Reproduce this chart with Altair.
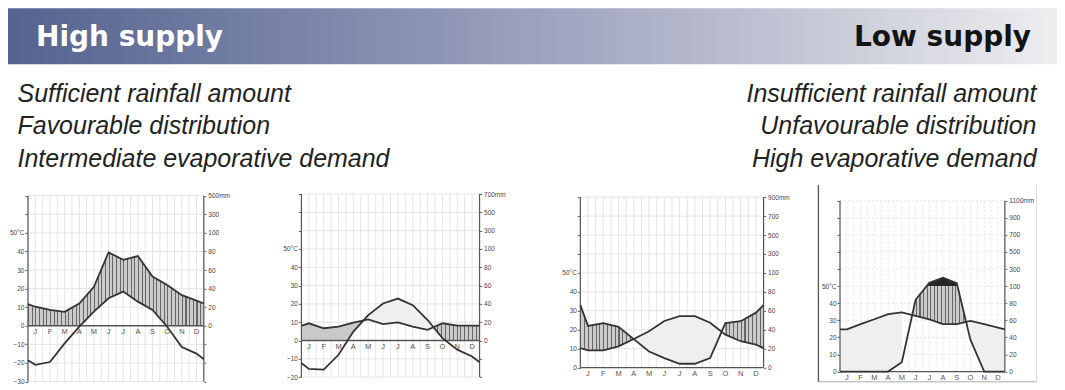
import altair as alt
import numpy as np
import pandas as pd

# ---------------- data ----------------
MONTHS = ["J", "F", "M", "A", "M", "J", "J", "A", "S", "O", "N", "D"]
# positions: left edge, month centres, right edge (in month units)
XPOS = [0.0] + [i + 0.5 for i in range(12)] + [12.0]

# temperature (deg C) and precipitation (mm): left edge, Jan..Dec, right edge
T1 = [-18.6, -21.0, -19.5, -9.5, -0.5, 7.6, 14.8, 18.4, 13.0, 8.5, -0.5, -11.4, -15.0, -18.0]
P1 = [23.4, 20.5, 17.0, 15.0, 24.0, 42.0, 79.0, 71.0, 75.0, 53.0, 44.0, 33.0, 27.0, 24.0]
T2 = [-12.3, -15.5, -15.9, -7.8, 4.9, 13.9, 20.2, 22.9, 19.3, 11.2, 1.3, -5.0, -8.7, -11.9]
P2 = [15.9, 18.8, 13.4, 15.2, 19.5, 23.1, 18.0, 19.9, 15.2, 11.6, 18.8, 16.2, 16.2, 16.2]
T3 = [10.3, 9.1, 9.1, 11.2, 15.1, 19.2, 24.6, 27.2, 27.2, 23.7, 17.4, 13.9, 12.1, 10.3]
P3 = [66.0, 44.0, 47.0, 43.0, 30.0, 17.0, 10.0, 4.0, 4.0, 10.0, 47.0, 49.0, 58.0, 66.0]
T4 = [24.7, 24.7, 27.7, 30.6, 33.6, 34.6, 32.6, 30.5, 27.7, 27.7, 29.6, 27.7, 25.7, 24.7]
P4 = [0.0, 0.0, 0.0, 0.0, 0.0, 11.0, 84.0, 140.0, 198.0, 135.0, 37.0, 0.0, 0.0, 0.0]

HEAD_LEFT = "High supply"
HEAD_RIGHT = "Low supply"
LEFT_LINES = ["Sufficient rainfall amount", "Favourable distribution",
              "Intermediate evaporative demand"]
RIGHT_LINES = ["Insufficient rainfall amount", "Unfavourable distribution",
               "High evaporative demand"]

# ---------------- styling ----------------
LABEL_FONT = "Liberation Sans"
GRID = "#e4e4e4"
AXIS = "#555555"
LINE = "#343434"
HATCH_BG = "#cbcbcb"
HATCH_FG = "#666666"
SOLID = "#c9c9c9"
DOTTED = "#efefef"
CAP = "#262626"
X0 = 27.0  # page x of first diagram's plot area (layout reference)


def p_units(p):
    # Walter-Lieth: 10 degC = 20 mm up to 100 mm, then 10 degC = 200 mm
    return p / 2.0 if p <= 100 else 50.0 + (p - 100.0) / 20.0


def cross_x(xs, a, b):
    out = []
    for i in range(len(xs) - 1):
        d0, d1 = a[i] - b[i], a[i + 1] - b[i + 1]
        if d0 * d1 < 0:
            out.append(xs[i] + (xs[i + 1] - xs[i]) * d0 / (d0 - d1))
    return out


def runs(xq, up, low):
    diff = up - low
    segs, cur = [], []
    for i in range(len(xq)):
        if diff[i] >= -1e-9:
            cur.append(i)
        else:
            if cur:
                segs.append(cur)
            cur = []
    if cur:
        segs.append(cur)
    out = []
    for s in segs:
        if len(s) > 1 and diff[s].max() > 1e-6:
            out.append(pd.DataFrame({"x": xq[s], "hi": np.maximum(up[s], low[s]), "lo": low[s]}))
    return out


def hatch(width_px, period=3.7, lw=1.1, bg=HATCH_BG, fg=HATCH_FG):
    n = max(1, int(round(width_px / period)))
    stops = []
    for k in range(n):
        a = k / n
        c = min(1.0, a + lw / max(width_px, 1.0))
        b = (k + 1) / n
        stops += [alt.GradientStop(offset=a, color=fg), alt.GradientStop(offset=c, color=fg),
                  alt.GradientStop(offset=c, color=bg), alt.GradientStop(offset=b, color=bg)]
    return alt.Gradient(gradient="linear", x1=0, x2=1, y1=0, y2=0, stops=stops)


def diagram(T, P, lo, top, ppu, w, ext, humid_styles, lead=0.0, dashed=False, frame=False):
    h = (top + ext - lo) * ppu
    xs = alt.Scale(domain=[0, 12], range=[lead, lead + w], nice=False, zero=False)
    ys = alt.Scale(domain=[lo, top + ext], nice=False, zero=False)
    xa = np.array(XPOS)
    Ta = np.array(T, dtype=float)
    Pu = np.array([p_units(p) for p in P])
    zeros = np.zeros_like(Ta)
    fifty = np.full_like(Ta, 50.0)
    xq = np.array(sorted(set(np.round(list(xa) + cross_x(xa, Ta, Pu) + cross_x(xa, Ta, zeros)
                                      + cross_x(xa, Pu, fifty), 9))))
    Tq = np.interp(xq, xa, Ta)
    Pq = np.interp(xq, xa, Pu)

    humid = runs(xq, np.minimum(Pq, 50.0), np.maximum(Tq, 0.0))
    arid = runs(xq, Tq, Pq)
    cap = runs(xq, Pq, np.full_like(Pq, 50.0))

    dash = {"strokeDash": [2, 2]} if dashed else {}
    vals = list(range(lo, top + 1, 10))
    hv = pd.DataFrame({"v": vals})
    gv = pd.DataFrame({"g": [i * 0.5 for i in range(25)]})

    left_kw = dict(orient="left", values=vals, title=None, domain=False, grid=False,
                   tickSize=3, tickColor=AXIS, tickWidth=1, labelFontSize=6.5,
                   labelColor="#444", labelPadding=1, labelFont=LABEL_FONT,
                   labelOverlap=False,
                   labelExpr="datum.value == 50 ? '50\u00b0C' : (datum.value > 50 ? '' : datum.label)")
    if lead > 0:
        left_kw["offset"] = -lead
    left_axis = alt.Axis(**left_kw)
    right_axis = alt.Axis(orient="right", values=vals, title=None, domain=False, grid=False,
                          tickSize=2, tickColor=AXIS, tickWidth=1, labelFontSize=6.5,
                          labelColor="#444", labelPadding=2, labelFont=LABEL_FONT,
                          labelOverlap=False,
                          labelExpr=("datum.value < 0 ? '' : (datum.value <= 50 ? format(datum.value*2, 'd')"
                                     " : format(100 + (datum.value - 50)*20, 'd') + (datum.value == %d ? 'mm' : ''))" % top))

    layers = []
    layers.append(alt.Chart(hv).mark_rule(color=GRID, strokeWidth=1, **dash).encode(
        y=alt.Y("v:Q", scale=ys, axis=left_axis),
        x=alt.X(datum=0, scale=xs, axis=None), x2=alt.X2(datum=12)))
    layers.append(alt.Chart(hv).mark_rule(opacity=0).encode(
        y=alt.Y("v:Q", scale=ys, axis=right_axis),
        x=alt.X(datum=0, scale=xs, axis=None), x2=alt.X2(datum=12)))
    layers.append(alt.Chart(gv).mark_rule(color=GRID, strokeWidth=1, **dash).encode(
        x=alt.X("g:Q", scale=xs, axis=None),
        y=alt.Y(datum=lo, scale=ys, axis=None), y2=alt.Y2(datum=top)))

    px_per_month = w / 12.0

    def area(df, fill):
        return alt.Chart(df).mark_area(fill=fill, opacity=1, strokeWidth=0).encode(
            x=alt.X("x:Q", scale=xs, axis=None),
            y=alt.Y("hi:Q", scale=ys, axis=None), y2="lo:Q")

    for df in arid:
        layers.append(area(df, DOTTED))
    for i, df in enumerate(humid):
        style = humid_styles[i] if i < len(humid_styles) else "hatch"
        fill = SOLID if style == "solid" else hatch((df.x.max() - df.x.min()) * px_per_month)
        layers.append(area(df, fill))
    for df in cap:
        layers.append(area(df, CAP))

    # zero line
    layers.append(alt.Chart(pd.DataFrame({"z": [0]})).mark_rule(color=AXIS, strokeWidth=1.3).encode(
        y=alt.Y("z:Q", scale=ys, axis=None),
        x=alt.X(datum=0, scale=xs, axis=None), x2=alt.X2(datum=12)))
    # vertical axis lines
    layers.append(alt.Chart(pd.DataFrame({"e": [0, 12]})).mark_rule(color=AXIS, strokeWidth=1.2).encode(
        x=alt.X("e:Q", scale=xs, axis=None),
        y=alt.Y(datum=lo, scale=ys, axis=None), y2=alt.Y2(datum=top)))

    ld = pd.DataFrame({"x": XPOS, "t": T, "p": Pu})
    layers.append(alt.Chart(ld).mark_line(color=LINE, strokeWidth=1.8).encode(
        x=alt.X("x:Q", scale=xs, axis=None), y=alt.Y("t:Q", scale=ys, axis=None)))
    layers.append(alt.Chart(ld).mark_line(color=LINE, strokeWidth=1.8).encode(
        x=alt.X("x:Q", scale=xs, axis=None), y=alt.Y("p:Q", scale=ys, axis=None)))

    md = pd.DataFrame({"x": XPOS[1:13], "m": MONTHS})
    layers.append(alt.Chart(md).mark_text(fontSize=7.5, color="#555", baseline="middle",
                                          dy=6.5, font=LABEL_FONT).encode(
        x=alt.X("x:Q", scale=xs, axis=None), y=alt.Y(datum=0, scale=ys, axis=None), text="m:N"))

    if frame:
        one = pd.DataFrame({"k": [0]})
        fl, fr = lead - 21.6, lead + 196.7
        layers.append(alt.Chart(one).mark_rule(color="#dddddd", strokeWidth=1).encode(
            x=alt.value(fr), y=alt.value(-8), y2=alt.value(189)))
        layers.append(alt.Chart(one).mark_rule(color="#aaaaaa", strokeWidth=1).encode(
            x=alt.value(fl), x2=alt.value(fr), y=alt.value(189)))
        layers.append(alt.Chart(one).mark_rule(color="#555555", strokeWidth=1.3).encode(
            x=alt.value(fl), y=alt.value(-8), y2=alt.value(189)))

    return alt.layer(*layers).resolve_axis(y="independent").properties(width=lead + w, height=h)


GAP = 75.6
d1 = diagram(T1, P1, -30, 70, 1.86, 176, 1.45, ["hatch"])
d2 = diagram(T2, P2, -20, 80, 1.833, 178.3, 0.55, ["solid", "hatch"], lead=22.1)
d3 = diagram(T3, P3, 0, 90, 1.895, 183.4, 2.2, ["hatch", "hatch"], lead=24.7)
d4 = diagram(T4, P4, 0, 100, 1.71, 165, 4.5, ["hatch"], dashed=True, frame=True)

# ---------------- header ----------------
one = pd.DataFrame({"k": [0]})
banner_fill = alt.Gradient(gradient="linear", x1=0, x2=1, y1=0, y2=0, stops=[
    alt.GradientStop(offset=0.0, color="#55638f"),
    alt.GradientStop(offset=0.3, color="#7d87aa"),
    alt.GradientStop(offset=0.55, color="#a4a9c3"),
    alt.GradientStop(offset=0.8, color="#cbcdd9"),
    alt.GradientStop(offset=1.0, color="#eeeef0")])
hdr = [alt.Chart(one).mark_rect(fill=banner_fill).encode(
    x=alt.value(7 - X0), x2=alt.value(1057 - X0), y=alt.value(0), y2=alt.value(56))]
hdr.append(alt.Chart(pd.DataFrame({"t": [HEAD_LEFT]})).mark_text(
    font="DejaVu Sans", fontWeight="bold", fontSize=28, color="white", align="left",
    baseline="alphabetic").encode(text="t:N", x=alt.value(35 - X0), y=alt.value(38)))
hdr.append(alt.Chart(pd.DataFrame({"t": [HEAD_RIGHT]})).mark_text(
    font="DejaVu Sans", fontWeight="bold", fontSize=28, color="#141414", align="right",
    baseline="alphabetic").encode(text="t:N", x=alt.value(1031 - X0), y=alt.value(38)))
for i, (lt, rt) in enumerate(zip(LEFT_LINES, RIGHT_LINES)):
    yy = 93.5 + 32.5 * i
    hdr.append(alt.Chart(pd.DataFrame({"t": [lt]})).mark_text(
        font="Liberation Sans", fontStyle="italic", fontSize=25, color="#222", align="left",
        baseline="alphabetic").encode(text="t:N", x=alt.value(16.5 - X0), y=alt.value(yy)))
    hdr.append(alt.Chart(pd.DataFrame({"t": [rt]})).mark_text(
        font="Liberation Sans", fontStyle="italic", fontSize=25, color="#222", align="right",
        baseline="alphabetic").encode(text="t:N", x=alt.value(1036.5 - X0), y=alt.value(yy)))
header = alt.layer(*hdr).properties(width=1000, height=180)

row = alt.hconcat(d1, d2, d3, d4, spacing=GAP, bounds="flush")
chart = alt.vconcat(header, row, spacing=5, bounds="flush").properties(
    padding=0, background="white").configure_view(stroke=None)

chart.save("out.html", embed_options={"renderer": "svg", "actions": False})
